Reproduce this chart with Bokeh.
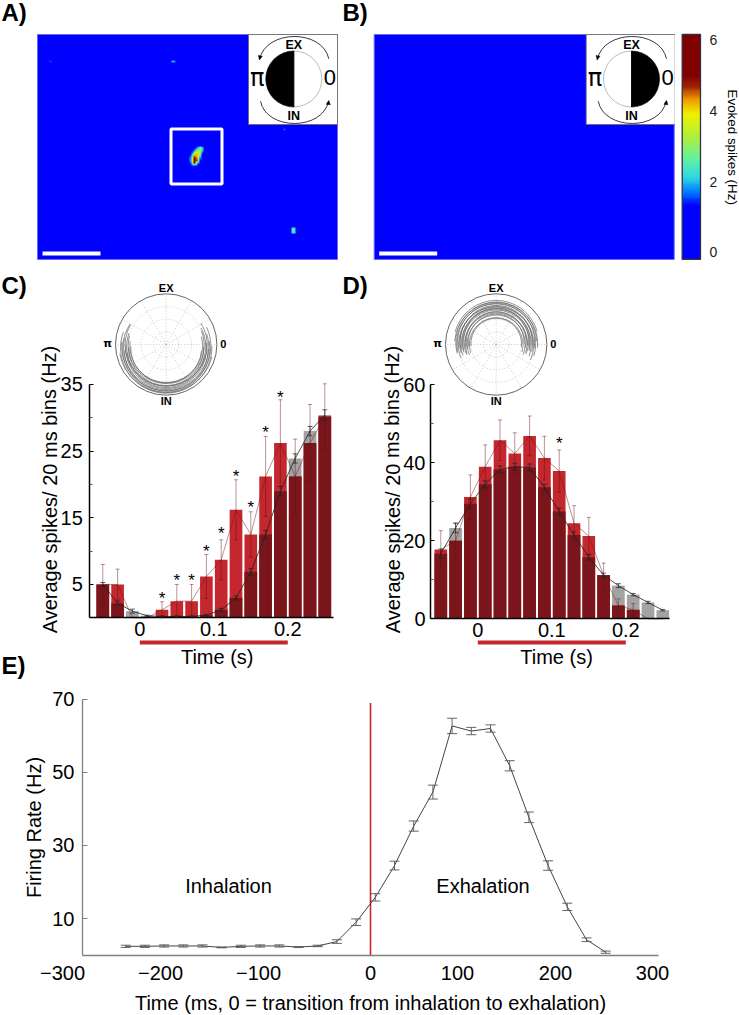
import numpy as np
from bokeh.embed import file_html
from bokeh.resources import INLINE
from bokeh.layouts import column, row
from bokeh.plotting import figure
from bokeh.core.properties import value
from bokeh.models import (Range1d, LinearAxis, FixedTicker, LinearColorMapper, Whisker, TeeHead,
                          ColumnDataSource, Arrow, NormalHead)

# ---------- data ----------
bin_times = [-0.05, -0.03, -0.01, 0.01, 0.03, 0.05, 0.07, 0.09, 0.11, 0.13, 0.15, 0.17, 0.19, 0.21, 0.23, 0.25]

c_stim = [5.0, 5.0, 0, 0, 1.2, 2.5, 2.5, 6.2, 8.7, 16.2, 12.5, 21.2, 26.2, 21.2, 26.2, 30.2]
c_stim_err = [3.0, 2.3, 0, 0, 1.2, 2.5, 2.5, 3.3, 3.0, 4.5, 3.4, 6.0, 6.5, 5.6, 5.8, 4.9]
c_base = [5.0, 2.2, 1.0, 0.3, 0.2, 0.2, 0.2, 0.4, 1.2, 3.0, 6.9, 12.5, 19.0, 23.9, 28.0, 30.4]
c_base_err = [0.3, 0.3, 0.3, 0.1, 0.1, 0.1, 0.1, 0.1, 0.2, 0.3, 0.5, 0.6, 0.7, 0.7, 0.7, 0.8]
c_star_t = [0.03, 0.05, 0.07, 0.09, 0.11, 0.13, 0.15, 0.17, 0.19]
c_star_v = [3.35, 6.1, 6.1, 10.45, 13.1, 21.7, 17.0, 28.2, 33.5]

d_stim = [17.8, 20.0, 31.2, 39.0, 45.8, 42.4, 46.9, 41.2, 37.9, 24.5, 21.2, 11.2, 3.4, 2.3, 0, 0]
d_stim_err = [4.8, 4.6, 5.7, 5.6, 5.2, 5.3, 5.1, 5.6, 5.4, 4.5, 4.8, 3.1, 1.7, 1.6, 0, 0]
d_base = [16.7, 23.3, 29.5, 34.5, 38.3, 39.0, 38.8, 33.7, 27.5, 21.5, 15.8, 11.2, 8.5, 6.2, 4.2, 2.2]
d_base_err = [1.2, 1.2, 1.2, 0.9, 0.9, 0.9, 0.9, 0.8, 0.9, 0.8, 0.7, 0.5, 0.5, 0.3, 0.3, 0.2]
d_star_t = [0.11]
d_star_v = [45.6]

polar_c_r = [0.70, 0.72, 0.74, 0.75, 0.77, 0.78, 0.80, 0.81, 0.83, 0.84, 0.86, 0.88, 0.90, 0.93]
polar_c_dy = [-0.06, -0.03, -0.07, -0.02, -0.08, -0.04, -0.07, -0.01, -0.09, -0.05, -0.08, -0.03, -0.06, -0.02]
polar_c_start = [178, 172, 180, 165, 186, 160, 176, 150, 182, 168, 146, 174, 160, 190]
polar_c_end = [355, 375, 362, 382, 350, 388, 368, 392, 360, 378, 370, 385, 362, 346]

polar_d_r = [0.50, 0.53, 0.55, 0.57, 0.59, 0.61, 0.62, 0.64, 0.66, 0.67, 0.69, 0.71, 0.72, 0.74, 0.76, 0.78,
             0.80, 0.82, 0.84]
polar_d_dy = [0.02, 0.0, 0.05, 0.01, 0.06, 0.03, 0.0, 0.07, 0.02, 0.05, 0.01, 0.06, 0.03, 0.0, 0.05, 0.02, 0.04,
              0.01, 0.03]
polar_d_start = [-8, -16, -4, -22, -12, -18, -2, -24, -10, -15, -20, -6, -14, -24, -9, -18, 2, -5, 16]
polar_d_end = [186, 198, 190, 202, 195, 200, 184, 205, 192, 198, 188, 203, 196, 186, 204, 192, 196, 176, 165]

# evoked-spike map of panel A, 2-pixel cells
hot_rows = [[0, 0, 0, 0, 1.8, 2.2, 1.6],
            [0, 0, 0, 1.8, 2.4, 2.8, 2.2],
            [0, 0, 1.8, 2.6, 3.0, 3.2, 2.0],
            [0, 1.6, 3.0, 3.8, 3.4, 3.0, 1.6],
            [0, 2.2, 3.9, 4.2, 3.6, 2.6, 0],
            [1.6, 2.8, 4.5, 4.2, 3.4, 2.0, 0],
            [1.8, 3.4, 5.5, 4.5, 3.0, 1.6, 0],
            [1.8, 3.6, 6.0, 4.6, 2.6, 0, 0],
            [1.6, 3.2, 5.0, 3.8, 2.0, 0, 0],
            [0, 2.0, 2.8, 2.0, 0, 0, 0]]
spot_col = [67, 68, 6, 123, 127, 128, 127, 128, 127, 128]
spot_row = [13, 13, 13, 47, 97, 97, 98, 98, 99, 99]
spot_val = [2.0, 1.8, 1.5, 1.6, 2.4, 2.3, 2.4, 2.3, 2.3, 2.4]

cbar_ticks = [0, 2, 4, 6]
cbar_stops = [0, 1.3, 1.7, 2.1, 2.6, 3.2, 3.9, 4.3, 4.7, 5.0, 6.0]
cbar_colors = ["#0000ff", "#0000ff", "#0080ff", "#30d8e0", "#60f0a8", "#a8f040", "#f0f000", "#f0a000", "#a02000",
               "#800000", "#800000"]

e_time = [-255, -235, -215, -195, -175, -155, -135, -115, -95, -75, -55, -35, -15, 5, 25, 45, 65, 85, 105, 125, 145,
          165, 185, 205, 225, 245]
e_rate = [2.4, 2.4, 2.5, 2.5, 2.5, 2.1, 2.4, 2.5, 2.5, 2.2, 2.5, 3.7, 9.0, 15.8, 24.5, 35.3, 44.6, 62.7, 61.3, 62.0,
          51.8, 37.7, 24.5, 13.2, 4.2, 0.8]
e_err = [0.3, 0.3, 0.3, 0.3, 0.3, 0.1, 0.3, 0.3, 0.3, 0.1, 0.2, 0.5, 0.9, 1.0, 1.2, 1.4, 1.9, 2.1, 1.0, 1.0, 1.4,
         1.45, 1.3, 1.0, 0.5, 0.3]
e_xticks = [-300, -200, -100, 0, 100, 200, 300]
e_xtick_labels = ["\u2212300", "\u2212200", "\u2212100", "0", "100", "200", "300"]
e_xtick_shift = [-20, -18, -16, 0, -9, -7, -6]
e_yticks = [10, 30, 50, 70]

# ---------- helpers ----------
FONT = value("Liberation Sans")
PI_FONT = "DejaVu Sans"
PAGE_H = 1015
RED, DARK, GREY = "#c4272e", "#7a161b", "#a3a3a3"


def py(y):
    return PAGE_H - y


def panel(x0, x1, y0, y1, xr=None, yr=None):
    xr = xr or (x0, x1)
    yr = yr or (py(y1), py(y0))
    p = figure(width=x1 - x0, height=y1 - y0, x_range=Range1d(*xr), y_range=Range1d(*yr), x_axis_type=None,
               y_axis_type=None, toolbar_location=None, output_backend="svg", min_border=0, outline_line_color=None)
    p.extra_x_ranges["px"] = Range1d(x0, x1)
    p.extra_y_ranges["px"] = Range1d(py(y1), py(y0))
    return p


def txt(p, x, y, s, size, bold=False, angle=0, align="center", color="black", font="Liberation Sans"):
    p.text(x=[x], y=[py(y)], text=[s], text_font=value(font), text_font_size=f"{size}px", text_align=align,
           text_baseline="middle", angle=[angle], text_color=color, text_font_style="bold" if bold else "normal",
           x_range_name="px", y_range_name="px")


def inset(p, dx, black_start, black_end):
    x0, x1, y0, y1 = 248 + dx, 337 + dx, 34, 124
    cx, cy, r = 293.3 + dx, 78.5, 28
    p.quad(left=[x0], right=[x1], top=[py(y0)], bottom=[py(y1)], fill_color="white", line_color="#666666",
           line_width=0.8, x_range_name="px", y_range_name="px")
    p.circle(x=[cx], y=[py(cy)], radius=r, fill_color="white", line_color="#aaaaaa", line_width=0.8,
             x_range_name="px", y_range_name="px")
    p.wedge(x=[cx], y=[py(cy)], radius=r, start_angle=black_start, end_angle=black_end, fill_color="black",
            line_color="black", line_width=0.5, x_range_name="px", y_range_name="px")
    p.line(x=[cx, cx], y=[py(cy - r), py(cy + r)], line_color="black", line_width=0.8, x_range_name="px",
           y_range_name="px")
    p.bezier(x0=[328.3 + dx], y0=[py(58.3)], x1=[259 + dx], y1=[py(59.3)], cx0=[322 + dx], cy0=[py(28.4)],
             cx1=[265 + dx], cy1=[py(28.4)], line_color="#222222", line_width=0.9, x_range_name="px",
             y_range_name="px")
    p.bezier(x0=[260 + dx], y0=[py(100.7)], x1=[328 + dx], y1=[py(100.7)], cx0=[266 + dx], cy0=[py(130.4)],
             cx1=[322 + dx], cy1=[py(130.4)], line_color="#222222", line_width=0.9, x_range_name="px",
             y_range_name="px")
    for xa, ya, xb, yb in [(259.6, 56.5, 259, 59.3), (327.8, 103.5, 328.3, 100.0)]:
        p.add_layout(Arrow(end=NormalHead(size=4, fill_color="black", line_color="black", line_width=0.5),
                           x_start=xa + dx, y_start=py(ya), x_end=xb + dx, y_end=py(yb), line_width=0.5,
                           x_range_name="px", y_range_name="px"))
    txt(p, cx, 44.5, "EX", 12.5, bold=True)
    txt(p, cx, 115.5, "IN", 12.5, bold=True)
    txt(p, 256.7 + dx, 77, "\u03c0", 24, font=PI_FONT)
    txt(p, 329.3 + dx, 77, "0", 22)


def field_panel(p, field, mapper, dx):
    p.image(image=[np.flipud(field)], x=[37 + dx], y=[py(259)], dw=[300], dh=[225], color_mapper=mapper,
            x_range_name="px", y_range_name="px")
    p.quad(left=[37 + dx], right=[337 + dx], top=[py(34)], bottom=[py(259)], fill_color=None, line_color="#6a6af0",
           line_width=1, x_range_name="px", y_range_name="px")
    p.quad(left=[42 + dx], right=[100 + dx], top=[py(251)], bottom=[py(255)], fill_color="white", line_color=None,
           x_range_name="px", y_range_name="px")


def polar(p, cx, cy, radii, dys, starts, ends, tag):
    R = 50.7
    p.extra_x_ranges[tag] = Range1d((p.extra_x_ranges["px"].start - cx) / R, (p.extra_x_ranges["px"].end - cx) / R)
    p.extra_y_ranges[tag] = Range1d((p.extra_y_ranges["px"].start - py(cy)) / R,
                                    (p.extra_y_ranges["px"].end - py(cy)) / R)
    kw = dict(x_range_name=tag, y_range_name=tag)
    ang = np.deg2rad(np.arange(0, 360, 30))
    p.segment(x0=np.zeros(12), y0=np.zeros(12), x1=np.cos(ang), y1=np.sin(ang), line_color="#b5b5b5", line_width=0.7,
              line_dash="1 2", **kw)
    for rr in [0.25, 0.5, 0.75]:
        p.circle(x=[0], y=[0], radius=rr, fill_color=None, line_color="#b5b5b5", line_width=0.7, line_dash="1 2", **kw)
    n = len(radii)
    p.arc(x=np.zeros(n), y=np.array(dys), radius=np.array(radii), start_angle=np.deg2rad(starts),
          end_angle=np.deg2rad(ends), direction="anticlock", line_color="#666666", line_width=0.7, **kw)
    p.circle(x=[0], y=[0], radius=1, fill_color=None, line_color="#555555", line_width=0.9, **kw)
    txt(p, cx, cy - 56.3, "EX", 11, bold=True)
    txt(p, cx, cy + 56.7, "IN", 11, bold=True)
    txt(p, cx - 58.5, cy - 1, "\u03c0", 11, bold=True, font=PI_FONT)
    txt(p, cx + 57, cy - 0.5, "0", 11, bold=True)


def bar_panel(x0, x1, y0, y1, zero_x, base_y, vscale, axis_x, axis_end, stim, stim_err, base, base_err, star_t, star_v,
              ticks, minor, lab_x, lab_y, xlab_x, standoff):
    xscale = 740.0
    p = panel(x0, x1, y0, y1, xr=((x0 - zero_x) / xscale, (x1 - zero_x) / xscale),
              yr=((base_y - y1) / vscale, (base_y - y0) / vscale))
    t = np.array(bin_times)
    s, b = np.array(stim, float), np.array(base, float)
    w = 0.0171
    p.vbar(x=t, width=w, bottom=0, top=b, fill_color=GREY, line_color=None)
    p.vbar(x=t, width=w, bottom=0, top=s, fill_color=RED, line_color=None)
    p.vbar(x=t, width=w, bottom=0, top=np.minimum(s, b), fill_color=DARK, line_color=None)
    m = s > 0
    se, be = np.array(stim_err), np.array(base_err)
    src_s = ColumnDataSource(dict(x=t[m], u=(s + se)[m], l=(s - se)[m]))
    src_b = ColumnDataSource(dict(x=t, u=b + be, l=b - be))
    werr = dict(line_color="#601010", line_alpha=0.5, line_width=0.9)
    p.add_layout(Whisker(source=src_s, base="x", upper="u", lower="l", upper_head=TeeHead(size=4, **werr),
                         lower_head=TeeHead(size=4, **werr), level="annotation", **werr))
    p.add_layout(Whisker(source=src_b, base="x", upper="u", lower="l", line_color="#222222", line_width=0.7,
                         upper_head=TeeHead(size=5, line_color="#222222", line_width=0.7),
                         lower_head=TeeHead(size=5, line_color="#222222", line_width=0.7), level="annotation"))
    p.line(x=t, y=s, line_color="#701818", line_alpha=0.6, line_width=0.8)
    p.line(x=t, y=b, line_color="#222222", line_width=0.8)
    p.text(x=star_t, y=star_v, text=["*"] * len(star_t), text_font=FONT, text_font_size="17px", text_align="center",
           text_baseline="alphabetic", y_offset=3, text_color="black")
    # stimulus bar 0 - 0.2 s
    p.line(x=[0, 0.2], y=[(base_y - 642) / vscale] * 2, line_color=RED, line_width=4)

    xa = LinearAxis(fixed_location=0, ticker=FixedTicker(ticks=[0, 0.1, 0.2]), major_tick_in=0, major_tick_out=0,
                    minor_tick_in=0, minor_tick_out=0, axis_line_color="black", axis_line_width=1.5,
                    major_label_text_font=FONT.value, major_label_text_font_size="20px",
                    major_label_text_color="black", major_label_standoff=4,
                    bounds=((axis_x - zero_x) / xscale, (axis_end - zero_x) / xscale))
    p.add_layout(xa, "below")
    ya = LinearAxis(fixed_location=(axis_x - zero_x) / xscale, ticker=FixedTicker(ticks=ticks, minor_ticks=minor),
                    major_tick_in=4, major_tick_out=0, minor_tick_in=3, minor_tick_out=0, axis_line_color="black",
                    axis_line_width=1.5, major_tick_line_color="black", minor_tick_line_color="#555555",
                    major_label_text_font=FONT.value, major_label_text_font_size="20px",
                    major_label_text_color="black", major_label_standoff=standoff,
                    bounds=(0, max(ticks)))
    p.add_layout(ya, "left")
    txt(p, lab_x, lab_y, "Average spikes/ 20 ms bins (Hz)", 20, angle=np.pi / 2)
    txt(p, xlab_x, 656.5, "Time (s)", 20)
    return p


# ---------- colour scale ----------
lv = np.linspace(0, 6, 256)
rgb = [[int(cbar_colors[i][j:j + 2], 16) for j in (1, 3, 5)] for i in range(len(cbar_colors))]
pal = ["#%02x%02x%02x" % tuple(int(round(np.interp(v, cbar_stops, [c[k] for c in rgb]))) for k in range(3)) for v in lv]
mapper = LinearColorMapper(palette=pal, low=0, high=6)

field_a = np.zeros((113, 150))
hot = np.array(hot_rows)
field_a[56:56 + hot.shape[0], 76:76 + hot.shape[1]] = hot
for r_, c_, v_ in zip(spot_row, spot_col, spot_val):
    field_a[r_, c_] = v_
field_b = np.zeros((113, 150))

# ---------- panel A ----------
pa = panel(0, 340, 0, 266)
field_panel(pa, field_a, mapper, 0)
pa.quad(left=[170.5], right=[221.5], top=[py(128.5)], bottom=[py(183.5)], fill_color=None, line_color="white",
        line_width=3, x_range_name="px", y_range_name="px")
inset(pa, 0, np.pi / 2, 3 * np.pi / 2)
txt(pa, 1, 12, "A)", 24, bold=True, align="left")

# ---------- panel B ----------
pb = panel(340, 675, 0, 266)
field_panel(pb, field_b, mapper, 336.7)
inset(pb, 337.7, -np.pi / 2, np.pi / 2)
txt(pb, 342, 12, "B)", 24, bold=True, align="left")

# ---------- colour bar ----------
cb_scale = 35.3
pcb = panel(675, 739, 0, 266, yr=((251.7 - 266) / cb_scale, 251.7 / cb_scale))
vals = np.linspace(-0.2, 6.17, 256).reshape(-1, 1)
pcb.image(image=[vals], x=[681.7], y=[-0.2], dw=[18.3], dh=[6.37], color_mapper=mapper)
pcb.quad(left=[681.7], right=[700], bottom=[-0.2], top=[6.17], fill_color=None, line_color="#30304a", line_width=1.3)
cax = LinearAxis(fixed_location=700, ticker=FixedTicker(ticks=cbar_ticks), major_tick_in=0, major_tick_out=0,
                 minor_tick_in=0, minor_tick_out=0, axis_line_color=None, major_label_text_font=FONT.value,
                 major_label_text_font_size="14px", major_label_text_color="#222222", major_label_standoff=9)
pcb.add_layout(cax, "right")
txt(pcb, 732, 146.7, "Evoked spikes (Hz)", 13.4, angle=-np.pi / 2)

# ---------- panels C and D ----------
pc = bar_panel(0, 340, 266, 680, 139.3, 617.3, 6.667, 89.3, 332.7, c_stim, c_stim_err, c_base, c_base_err, c_star_t,
               c_star_v, [5, 15, 25, 35], [10, 20, 30], 49, 489, 216.7, 7)
polar(pc, 165.7, 344, polar_c_r, polar_c_dy, polar_c_start, polar_c_end, "polar")
txt(pc, 1, 285, "C)", 24, bold=True, align="left")
txt(pc, 1, 665, "E)", 24, bold=True, align="left")

pd_ = bar_panel(340, 739, 266, 680, 477.3, 618.3, 3.9, 430, 669.3, d_stim, d_stim_err, d_base, d_base_err, d_star_t,
                d_star_v, [0, 20, 40, 60], [10, 30, 50], 392, 489, 556, 5)
polar(pd_, 495.7, 344, polar_d_r, polar_d_dy, polar_d_start, polar_d_end, "polar")
txt(pd_, 342, 285, "D)", 24, bold=True, align="left")

# ---------- panel E ----------
ex, ey = 0.96, 3.655
pe = panel(0, 739, 680, 1015, xr=((0 - 370) / ex, (739 - 370) / ex), yr=((954.6 - 1015) / ey, (954.6 - 680) / ey))
pe.line(x=[0, 0], y=[0, 69], line_color="#c8262c", line_width=1.6)
pe.line(x=e_time, y=e_rate, line_color="#444444", line_width=1)
tt, rr_, ee = np.array(e_time), np.array(e_rate), np.array(e_err)
pe.add_layout(Whisker(source=ColumnDataSource(dict(x=tt, u=rr_ + ee, l=rr_ - ee)), base="x", upper="u", lower="l",
                      line_color="#555555", line_width=0.9, upper_head=TeeHead(size=10, line_color="#555555", line_width=0.9),
                      lower_head=TeeHead(size=10, line_color="#555555", line_width=0.9), level="annotation"))
xe = LinearAxis(fixed_location=0, ticker=FixedTicker(ticks=[]), axis_line_color="#808080", axis_line_width=1.3,
                bounds=(-300, 300), axis_label="Time (ms, 0 = transition from inhalation to exhalation)",
                axis_label_text_font=FONT.value, axis_label_text_font_size="20px", axis_label_text_color="black",
                axis_label_text_font_style="normal", axis_label_standoff=36)
pe.add_layout(xe, "below")
ye = LinearAxis(fixed_location=-300, ticker=FixedTicker(ticks=e_yticks), major_tick_in=5, major_tick_out=0,
                minor_tick_in=0, minor_tick_out=0, axis_line_color="#808080", axis_line_width=1.3,
                major_tick_line_color="#808080", bounds=(0, 70), major_label_text_font=FONT.value,
                major_label_text_font_size="20px", major_label_text_color="black", major_label_standoff=8,
                axis_label="Firing Rate (Hz)", axis_label_text_font=FONT.value, axis_label_text_font_size="20px",
                axis_label_text_color="black", axis_label_text_font_style="normal", axis_label_standoff=4)
pe.add_layout(ye, "left")
pe.text(x=e_xticks, y=[0] * len(e_xticks), text=e_xtick_labels, x_offset=e_xtick_shift, y_offset=18,
        text_font=FONT, text_font_size="20px", text_align="center", text_baseline="middle", text_color="black")
txt(pe, 228, 885, "Inhalation", 20)
txt(pe, 482.5, 885, "Exhalation", 20)

layout = column(row(pa, pb, pcb, spacing=0), row(pc, pd_, spacing=0), pe, spacing=0)
open("out.html", "w").write(file_html(layout, INLINE))
